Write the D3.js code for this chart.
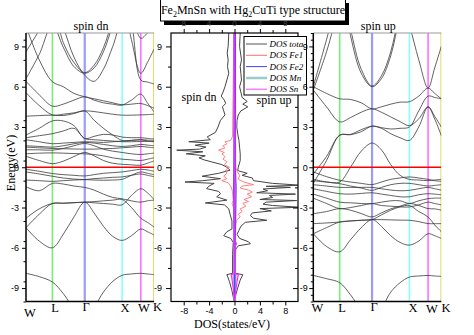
<!DOCTYPE html>
<html><head><meta charset="utf-8">
<script src="https://cdn.jsdelivr.net/npm/d3@7/dist/d3.min.js"></script>
<style>
html,body{margin:0;padding:0;background:#fff;}
svg{display:block;}
text{font-family:"Liberation Serif","Times New Roman",serif;}
</style></head><body>
<svg id="chart" width="474" height="335"></svg>
<script>
// ---------------- DATA ----------------
const kPts = [0, 0.354, 0.707, 0.996, 1.284, 1.573, 1.823, 2.073, 2.323, 2.573, 2.823, 3.073, 3.25, 3.427];
const kNodes = [0, 0.707, 1.573, 2.573, 3.073, 3.427];
const kNodeLabels = ["W", "L", "Γ", "X", "W", "K"];
const yTicksMajor = [-9, -6, -3, 0, 3, 6, 9];
const dosTicksMajor = [-8, -4, 0, 4, 8];
const dosTicksMinor = [-6, -2, 2, 6];

// spin dn band energies (eV) at kPts
const bandsDn = [
  [-7.9,-8.15,-8.55,-9.4,-10.5,-11.0,-10.4,-9.3,-8.5,-8.05,-7.95,-7.9,-7.95,-8.0],
  [-4.5,-5.5,-6.0,-5.0,-3.7,-2.6,-3.4,-4.4,-5.15,-5.45,-5.1,-4.6,-4.8,-5.05],
  [-3.8,-3.1,-2.7,-2.68,-2.64,-2.6,-2.56,-2.5,-2.45,-2.4,-3.0,-3.8,-4.1,-4.45],
  [-4.5,-3.5,-2.7,-2.68,-2.64,-2.6,-2.65,-2.7,-2.75,-2.8,-2.1,-1.6,-1.9,-2.4],
  [-1.45,-1.75,-1.2,-1.25,-1.4,-1.5,-1.7,-2.0,-2.25,-2.35,-2.5,-2.6,-2.5,-2.45],
  [-0.95,-1.0,-1.05,-1.0,-0.95,-0.92,-0.85,-0.8,-0.75,-0.72,-0.6,-0.5,-0.6,-0.7],
  [-0.35,-0.5,-0.67,-0.8,-0.88,-0.92,-0.95,-0.97,-0.95,-0.9,-0.6,-0.35,-0.45,-0.55],
  [-0.15,-0.3,-0.47,-0.55,-0.6,-0.65,-0.55,-0.45,-0.4,-0.35,-0.25,-0.15,-0.2,-0.3],
  [0.82,0.5,0.27,0.45,0.8,1.1,0.85,0.5,0.3,0.22,0.18,0.15,0.3,0.47],
  [1.0,1.05,1.07,1.05,1.02,1.0,0.95,0.85,0.7,0.6,0.55,0.5,0.6,0.7],
  [1.3,1.3,1.27,1.4,1.6,1.77,1.6,1.35,1.2,1.1,1.0,0.95,1.0,1.05],
  [1.5,1.45,1.4,1.38,1.36,1.35,1.35,1.38,1.4,1.45,1.5,1.55,1.5,1.45],
  [1.6,1.55,1.5,1.6,1.75,1.85,1.8,1.7,1.6,1.55,1.6,1.7,1.65,1.6],
  [2.05,1.9,1.75,1.8,1.85,1.9,1.88,1.85,1.9,1.95,2.0,2.05,1.95,1.9],
  [2.4,2.9,3.45,3.45,3.1,2.14,2.3,2.45,2.4,2.25,2.2,2.2,2.15,2.1],
  [2.2,2.35,2.5,2.7,2.9,2.14,2.05,2.0,1.95,1.9,1.9,1.92,1.92,1.92],
  [3.8,3.85,3.88,3.85,4.0,4.2,3.5,2.9,2.4,2.0,2.0,2.05,2.02,2.0],
  [5.55,4.6,3.9,3.95,4.05,4.2,4.15,4.05,3.95,3.88,3.88,3.9,3.92,3.95],
  [6.4,5.4,4.55,4.7,5.0,5.25,5.0,4.8,4.7,4.63,5.0,5.45,4.8,4.13],
  [10.5,8.0,6.37,6.0,5.5,5.25,5.1,4.95,4.8,4.65,4.7,4.75,4.6,4.4],
  [6.6,8.4,10.6,8.95,7.5,7.0,7.4,8.6,10.6,12.5,9.5,7.0,7.8,8.8],
  [8.6,10.2,11.8,9.3,7.8,7.05,7.6,8.9,11.0,13.0,10.8,6.5,6.35,6.2],
  [12,12,12,10.4,8.2,6.85,6.4,7.3,9.0,10.8,11.0,9.6,10.0,10.5]
];

// spin up band energies (eV) at kPts
const bandsUp = [
  [-8.06,-8.3,-8.6,-9.5,-10.6,-11.1,-10.5,-9.3,-8.6,-8.18,-8.1,-8.06,-8.1,-8.13],
  [-4.95,-5.9,-6.3,-5.4,-4.5,-3.9,-4.4,-5.1,-5.6,-5.8,-5.5,-4.95,-5.1,-5.3],
  [-4.2,-4.15,-4.08,-4.0,-3.95,-3.9,-3.9,-3.92,-3.94,-3.95,-4.05,-4.2,-4.2,-4.2],
  [-4.95,-4.5,-4.08,-4.0,-3.95,-3.9,-3.55,-3.2,-2.95,-2.85,-3.3,-3.7,-4.3,-4.8],
  [-3.46,-3.3,-3.08,-3.2,-3.45,-3.7,-3.4,-3.1,-2.9,-2.7,-2.85,-3.08,-3.1,-3.2],
  [-2.3,-2.7,-3.08,-3.0,-2.85,-2.71,-2.85,-2.9,-2.95,-2.96,-2.8,-2.6,-2.7,-2.8],
  [-2.0,-2.3,-2.6,-2.65,-2.7,-2.71,-2.6,-2.5,-2.5,-2.7,-2.5,-2.34,-2.3,-2.3],
  [-1.6,-1.8,-1.97,-2.0,-1.95,-1.9,-2.0,-2.1,-2.2,-2.2,-2.05,-1.97,-2.0,-2.05],
  [-1.3,-1.4,-1.5,-1.5,-1.5,-1.5,-1.6,-1.7,-1.75,-1.72,-1.6,-1.5,-1.6,-1.7],
  [-0.9,-1.1,-1.22,-1.4,-1.55,-1.72,-1.5,-1.3,-1.2,-1.2,-1.3,-1.4,-1.35,-1.3],
  [-0.35,-0.7,-0.97,-1.1,-1.2,-1.29,-1.1,-0.9,-0.8,-0.72,-0.8,-0.9,-1.0,-1.05],
  [-1.0,-1.1,-1.1,0.0,1.2,1.8,1.3,0.2,-0.6,-0.9,-0.95,-1.0,-0.95,-0.9],
  [-0.5,0.8,2.39,2.42,2.65,3.06,2.9,2.5,2.2,2.0,3.0,4.5,3.6,2.35],
  [-1.2,0.5,2.39,2.45,2.8,3.06,2.95,2.85,2.9,3.0,4.2,5.3,5.2,5.1],
  [5.75,4.5,3.38,3.7,4.1,4.35,4.1,3.75,3.4,3.1,3.6,4.5,3.8,3.0],
  [6.0,5.5,5.1,5.05,4.8,4.35,4.5,4.7,4.85,4.88,5.3,5.9,5.5,5.1],
  [14,14,14,9.8,7.0,6.0,6.6,8.3,11.2,13,13,13,13,13],
  [14,14,14,10.3,7.3,6.05,6.8,8.6,11.6,13.5,13.5,13.5,13.5,13.5],
  [6.0,9.5,13,14,14,14,14,14,14,14,14,14,14,14],
  [5.75,8.6,12,14,14,14,14,14,14,14,14,14,14,14],
  [14,14,14,14,14,14,14,14,12,10.5,8.0,5.9,7.4,9.0]
];

// total DOS, spin up (positive) and spin dn (negative)
const totUpE = [10,9,8,7.5,7,6.5,6,5.6,5.2,4.9,4.7,4.5,4.2,3.9,3.5,3,2.5,2,1.5,1,0.5,0,-0.25,-0.45,-0.6,-0.8,-1,-1.2,-1.34,-1.42,-1.5,-1.62,-1.75,-1.9,-2,-2.1,-2.25,-2.4,-2.48,-2.6,-2.75,-2.85,-2.98,-3.08,-3.25,-3.4,-3.6,-3.8,-3.95,-4.1,-4.4,-4.7,-5,-5.3,-5.55,-5.7,-5.85,-6.1,-7,-7.9,-8,-8.4,-9,-9.5,-10];
const totUpV = [0.9,0.8,1.1,0.9,1.0,1.1,0.8,1.0,1.2,2.0,1.3,2.1,1.0,0.6,0.4,0.35,0.5,0.7,0.8,0.9,0.9,0.6,0.5,2.0,1.2,2.8,3.0,6.0,10.5,5.0,8.8,4.5,5.2,3.5,9.6,5.5,6.0,4.0,9.8,5.0,4.5,6.0,10.3,4.0,5.8,2.8,2.5,3.0,5.1,1.7,1.0,0.7,0.4,0.8,2.2,2.5,0.6,0.2,0.1,0.1,1.3,0.9,0.5,0.2,0.05];
const totDnE = [10,9,8.5,8,7.5,7,6.5,6,5.6,5.3,5,4.75,4.5,4.2,3.9,3.5,3,2.6,2.26,2.05,1.9,1.8,1.64,1.5,1.35,1.27,1.15,1,0.85,0.7,0.55,0.4,0.2,0,-0.22,-0.45,-0.67,-0.85,-1,-1.1,-1.2,-1.4,-1.59,-1.8,-1.97,-2.2,-2.45,-2.66,-2.8,-3.1,-3.5,-4,-4.6,-4.8,-5.1,-5.3,-5.6,-6.5,-7.9,-8,-8.5,-9.2,-10];
const totDnV = [-0.9,-1.0,-1.15,-1.0,-1.1,-0.9,-1.2,-1.5,-1.8,-2.1,-1.6,-1.4,-1.9,-1.7,-1.5,-2.2,-2.6,-3.0,-4.3,-3.8,-7.2,-4.0,-6.2,-4.5,-5.5,-9.1,-5.0,-7.6,-4.6,-5.6,-4.8,-3.6,-2.0,-1.2,-0.7,-2.5,-5.1,-2.2,-5.0,-7.8,-3.2,-4.0,-4.4,-2.5,-2.2,-2.8,-1.2,-4.6,-1.6,-0.9,-0.7,-0.4,-0.4,-1.2,-1.7,-0.6,-0.2,-0.3,-0.3,-1.2,-0.8,-0.4,-0.05];

// Fe1 partial DOS
const fe1DnE = [10,2.3,2.0,1.9,1.75,1.6,1.45,1.27,1.1,1.0,0.8,0.6,0.4,0.2,0,-0.2,-0.45,-0.67,-0.85,-1.0,-1.15,-1.4,-1.8,-2.5,-2.7,-3.0,-4,-10];
const fe1DnV = [-0.1,-0.3,-0.6,-1.5,-1.2,-1.8,-1.5,-2.5,-1.6,-2.0,-1.5,-1.8,-1.2,-1.6,-0.8,-1.4,-1.2,-1.7,-1.2,-2.0,-1.0,-0.6,-0.3,-0.2,-0.4,-0.15,-0.1,0];
const fe1UpE = [10,0.3,0,-0.3,-0.6,-0.9,-1.1,-1.3,-1.4,-1.55,-1.7,-1.85,-2.0,-2.2,-2.4,-2.55,-2.7,-2.9,-3.1,-3.3,-3.5,-3.7,-3.9,-4.2,-5,-10];
const fe1UpV = [0.15,0.15,0.2,0.4,0.8,0.6,1.5,3.0,1.2,0.9,2.2,2.8,2.0,2.7,1.5,2.2,1.3,1.8,0.9,1.2,0.6,0.9,0.4,0.2,0.1,0];

// Fe2, Mn, Sn partial DOS (small)
const fe2E = [10,5,0,-1.5,-3,-6,-10];
const fe2UpV = [0.15,0.15,0.12,0.25,0.2,0.1,0.05];
const fe2DnV = [-0.05,-0.05,-0.1,-0.15,-0.1,-0.05,-0.02];
const mnE = [10,0,-3,-6,-10];
const mnV = [0.05,0.08,0.1,0.05,0.02];
const snE = [10,-5.5,-5.7,-5.9,-7.9,-8.0,-8.5,-9.2,-10];
const snUpV = [0.05,0.05,0.35,0.05,0.05,0.6,0.4,0.2,0];
const snDnV = [-0.05,-0.05,-0.1,-0.05,-0.05,-0.5,-0.35,-0.15,0];

const legendItems = ["DOS total", "DOS Fe1", "DOS Fe2", "DOS Mn", "DOS Sn"];
const legendColors = ["#555555", "#ff7070", "#4444ff", "#99cccc", "#ff44ff"];
const legendWidths = [1, 1, 1, 2.5, 1];

// ---------------- DRAW ----------------
const svg = d3.select("#chart");
const Y0 = 33, Y1 = 301.5;
const yE = d3.scaleLinear().domain([-10, 10]).range([Y1, Y0]);
const leftX = d3.scaleLinear().domain([0, 3.427]).range([26, 154]);
const rightX = d3.scaleLinear().domain([0, 3.427]).range([313.3, 441.3]);
const xDos = d3.scaleLinear().domain([-10, 10]).range([171, 298]);
const nodeColors = [null, "#77ee77", "#9a9aff", "#88ffff", "#ff70ff", "#dede70"];
const fmt = d => String(d);
const SANS = '"Liberation Sans", Arial, sans-serif';

function styleAxis(g, fs) {
  g.selectAll("path.domain").remove();
  g.selectAll(".tick line").attr("stroke", "#000").attr("stroke-width", 1);
  g.selectAll(".tick text").attr("fill", "#000").attr("font-size", fs || 9).style("font-family", SANS);
}

function bandPanel(xS, bands, idx, title, labelPos, labelY, minorStep, pad) {
  const [x0, x1] = xS.range();
  const g = svg.append("g");
  svg.append("clipPath").attr("id", "clip" + idx)
    .append("rect").attr("x", x0).attr("y", Y0).attr("width", x1 - x0).attr("height", Y1 - Y0);
  const body = g.append("g").attr("clip-path", `url(#clip${idx})`);
  kNodes.forEach((k, i) => {
    if (i === 0) return;
    body.append("line").attr("x1", xS(k)).attr("x2", xS(k)).attr("y1", Y0).attr("y2", Y1)
      .attr("stroke", nodeColors[i]).attr("stroke-width", i === 2 ? 2.2 : (i === 5 ? 2 : 1.6));
  });
  const line = d3.line().x((d, i) => xS(kPts[i])).y(d => yE(d)).curve(d3.curveCatmullRom.alpha(0.5));
  bands.forEach(b => body.append("path").attr("d", line(b)).attr("fill", "none")
    .attr("stroke", "#3a3a3a").attr("stroke-width", 0.8));
  body.append("line").attr("x1", x0).attr("x2", x1).attr("y1", yE(0)).attr("y2", yE(0))
    .attr("stroke", "#ff0000").attr("stroke-width", 1.5);
  g.append("line").attr("x1", x0).attr("x2", x1).attr("y1", Y0).attr("y2", Y0).attr("stroke", "#999").attr("stroke-width", 1);
  g.append("line").attr("x1", x0).attr("x2", x1).attr("y1", Y1).attr("y2", Y1).attr("stroke", "#000").attr("stroke-width", 1.5);
  g.append("line").attr("x1", x0).attr("x2", x0).attr("y1", Y0).attr("y2", Y1).attr("stroke", "#000").attr("stroke-width", 1.5);
  const ax = g.append("g").attr("transform", `translate(${x0},0)`)
    .call(d3.axisLeft(yE).tickValues(yTicksMajor).tickSize(4).tickPadding(pad).tickFormat(fmt));
  styleAxis(ax, 9);
  const minors = d3.range(-10, 10.001, minorStep).filter(v => !yTicksMajor.includes(Math.round(v * 100) / 100));
  const axm = g.append("g").attr("transform", `translate(${x0},0)`)
    .call(d3.axisLeft(yE).tickValues(minors).tickSize(2.5).tickFormat(""));
  styleAxis(axm);
  kNodeLabels.forEach((t, i) => {
    g.append("text").attr("x", labelPos[i]).attr("y", labelY[i]).attr("text-anchor", "middle")
      .attr("font-size", 12.5).attr("fill", "#000").text(t);
  });
  g.append("text").attr("x", (x0 + x1) / 2 + 1).attr("y", 30).attr("text-anchor", "middle")
    .attr("font-size", 12).attr("fill", "#000").text(title);
  return g;
}

bandPanel(leftX, bandsDn, 1, "spin dn", [30, 55, 86, 125, 144, 157.5], [316.5, 312, 311, 312, 312, 311], 1.5, 3);

svg.append("text").attr("transform", "translate(15,163) rotate(-90)").attr("text-anchor", "middle")
  .attr("font-size", 12).attr("fill", "#000").text("Energy(eV)");

// ---------- DOS panel ----------
const dg = svg.append("g");
svg.append("clipPath").attr("id", "clipDos").append("rect")
  .attr("x", 171).attr("y", Y0).attr("width", 127).attr("height", Y1 - Y0);
const db = dg.append("g").attr("clip-path", "url(#clipDos)");
const dline = (E) => d3.line().x(d => xDos(d)).y((d, i) => yE(E[i]));
const darea = (E) => d3.area().x0(xDos(0)).x1(d => xDos(d)).y((d, i) => yE(E[i]));

db.append("path").attr("d", darea(snE)(snUpV)).attr("fill", "#ffb8ff").attr("stroke", "none");
db.append("path").attr("d", darea(snE)(snDnV)).attr("fill", "#ffb8ff").attr("stroke", "none");
db.append("path").attr("d", dline(totUpE)(totUpV)).attr("fill", "none").attr("stroke", "#444").attr("stroke-width", 1);
db.append("path").attr("d", dline(totDnE)(totDnV)).attr("fill", "none").attr("stroke", "#444").attr("stroke-width", 1);
db.append("path").attr("d", dline(fe1UpE)(fe1UpV)).attr("fill", "none").attr("stroke", "#ff7070").attr("stroke-width", 0.9);
db.append("path").attr("d", dline(fe1DnE)(fe1DnV)).attr("fill", "none").attr("stroke", "#ff7070").attr("stroke-width", 0.9);
db.append("path").attr("d", dline(mnE)(mnV)).attr("fill", "none").attr("stroke", "#99cccc").attr("stroke-width", 2.5);
db.append("path").attr("d", dline(fe2E)(fe2UpV)).attr("fill", "none").attr("stroke", "#4444ff").attr("stroke-width", 1.1);
db.append("path").attr("d", dline(fe2E)(fe2DnV)).attr("fill", "none").attr("stroke", "#4444ff").attr("stroke-width", 1.1);
db.append("path").attr("d", dline(snE)(snUpV)).attr("fill", "none").attr("stroke", "#ff22ff").attr("stroke-width", 1.1);
db.append("path").attr("d", dline(snE)(snDnV)).attr("fill", "none").attr("stroke", "#ff22ff").attr("stroke-width", 1.1);

dg.append("rect").attr("x", 171).attr("y", Y0).attr("width", 127).attr("height", Y1 - Y0)
  .attr("fill", "none").attr("stroke", "#000").attr("stroke-width", 1.2);

const dl = dg.append("g").attr("transform", "translate(171,0)")
  .call(d3.axisLeft(yE).tickValues(yTicksMajor).tickSize(5).tickPadding(4).tickFormat(fmt));
styleAxis(dl, 9);
const dlm = dg.append("g").attr("transform", "translate(171,0)")
  .call(d3.axisLeft(yE).tickValues(d3.range(-7.5, 9, 3)).tickSize(3).tickFormat(""));
styleAxis(dlm);
const dr = dg.append("g").attr("transform", "translate(298,0)")
  .call(d3.axisLeft(yE).tickValues(yTicksMajor).tickSize(5).tickFormat(""));
styleAxis(dr);
const drm = dg.append("g").attr("transform", "translate(298,0)")
  .call(d3.axisLeft(yE).tickValues(d3.range(-7.5, 9, 3)).tickSize(3).tickFormat(""));
styleAxis(drm);
const dbx = dg.append("g").attr("transform", `translate(0,${Y1})`)
  .call(d3.axisBottom(xDos).tickValues(dosTicksMajor).tickSize(4).tickPadding(2).tickFormat(fmt));
styleAxis(dbx, 9);
const dbm = dg.append("g").attr("transform", `translate(0,${Y1})`)
  .call(d3.axisBottom(xDos).tickValues(dosTicksMinor).tickSize(3).tickFormat(""));
styleAxis(dbm);
const dtx = dg.append("g").attr("transform", `translate(0,${Y0})`)
  .call(d3.axisTop(xDos).tickValues(dosTicksMajor).tickSize(4).tickFormat(""));
styleAxis(dtx);
const dtm = dg.append("g").attr("transform", `translate(0,${Y0})`)
  .call(d3.axisTop(xDos).tickValues(dosTicksMinor).tickSize(3).tickFormat(""));
styleAxis(dtm);

dg.append("text").attr("x", 199).attr("y", 101).attr("text-anchor", "middle").attr("font-size", 12).text("spin dn");
dg.append("text").attr("x", 274).attr("y", 104).attr("text-anchor", "middle").attr("font-size", 12).text("spin up");
svg.append("text").attr("x", 232).attr("y", 328).attr("text-anchor", "middle").attr("font-size", 12).text("DOS(states/eV)");

// legend
const lg = svg.append("g");
svg.append("clipPath").attr("id", "clipLeg").append("rect")
  .attr("x", 244).attr("y", 36.5).attr("width", 60).attr("height", 59.5);
lg.append("rect").attr("x", 244).attr("y", 36.5).attr("width", 62.5).attr("height", 58.5)
  .attr("fill", "#fff").attr("stroke", "#000").attr("stroke-width", 1);
const lgi = lg.append("g").attr("clip-path", "url(#clipLeg)");
legendItems.forEach((t, i) => {
  const yy = 44 + i * 11.3;
  lgi.append("line").attr("x1", 246).attr("x2", 267).attr("y1", yy).attr("y2", yy)
    .attr("stroke", legendColors[i]).attr("stroke-width", legendWidths[i]);
  lgi.append("text").attr("x", 269.5).attr("y", yy + 3).attr("font-size", 9)
    .attr("font-style", "italic").attr("fill", "#000").text(t);
});

// right band panel (drawn after legend, like the reference)
bandPanel(rightX, bandsUp, 2, "spin up", [317.5, 342, 374, 413, 432, 446], [312, 312, 311, 312, 313, 312], 0.5, 1.5);

// title box
svg.append("rect").attr("x", 164).attr("y", 3).attr("width", 185).attr("height", 22).attr("fill", "#000");
svg.append("rect").attr("x", 160.5).attr("y", -1).attr("width", 185).attr("height", 22)
  .attr("fill", "#fff").attr("stroke", "#000").attr("stroke-width", 1);
const tt = svg.append("text").attr("x", 253).attr("y", 14).attr("text-anchor", "middle").attr("font-size", 12).attr("fill", "#000");
tt.append("tspan").text("Fe");
tt.append("tspan").attr("font-size", 8).attr("dy", 3).text("2");
tt.append("tspan").attr("dy", -3).text("MnSn with Hg");
tt.append("tspan").attr("font-size", 8).attr("dy", 3).text("2");
tt.append("tspan").attr("dy", -3).text("CuTi type structure");
dosTicksMajor.forEach(v => {
  svg.append("text").attr("x", xDos(v)).attr("y", 26).attr("text-anchor", "middle")
    .attr("font-size", 8).attr("fill", "#444").style("font-family", SANS)
    .text(String(Math.abs(v)));
});
</script></body></html>
